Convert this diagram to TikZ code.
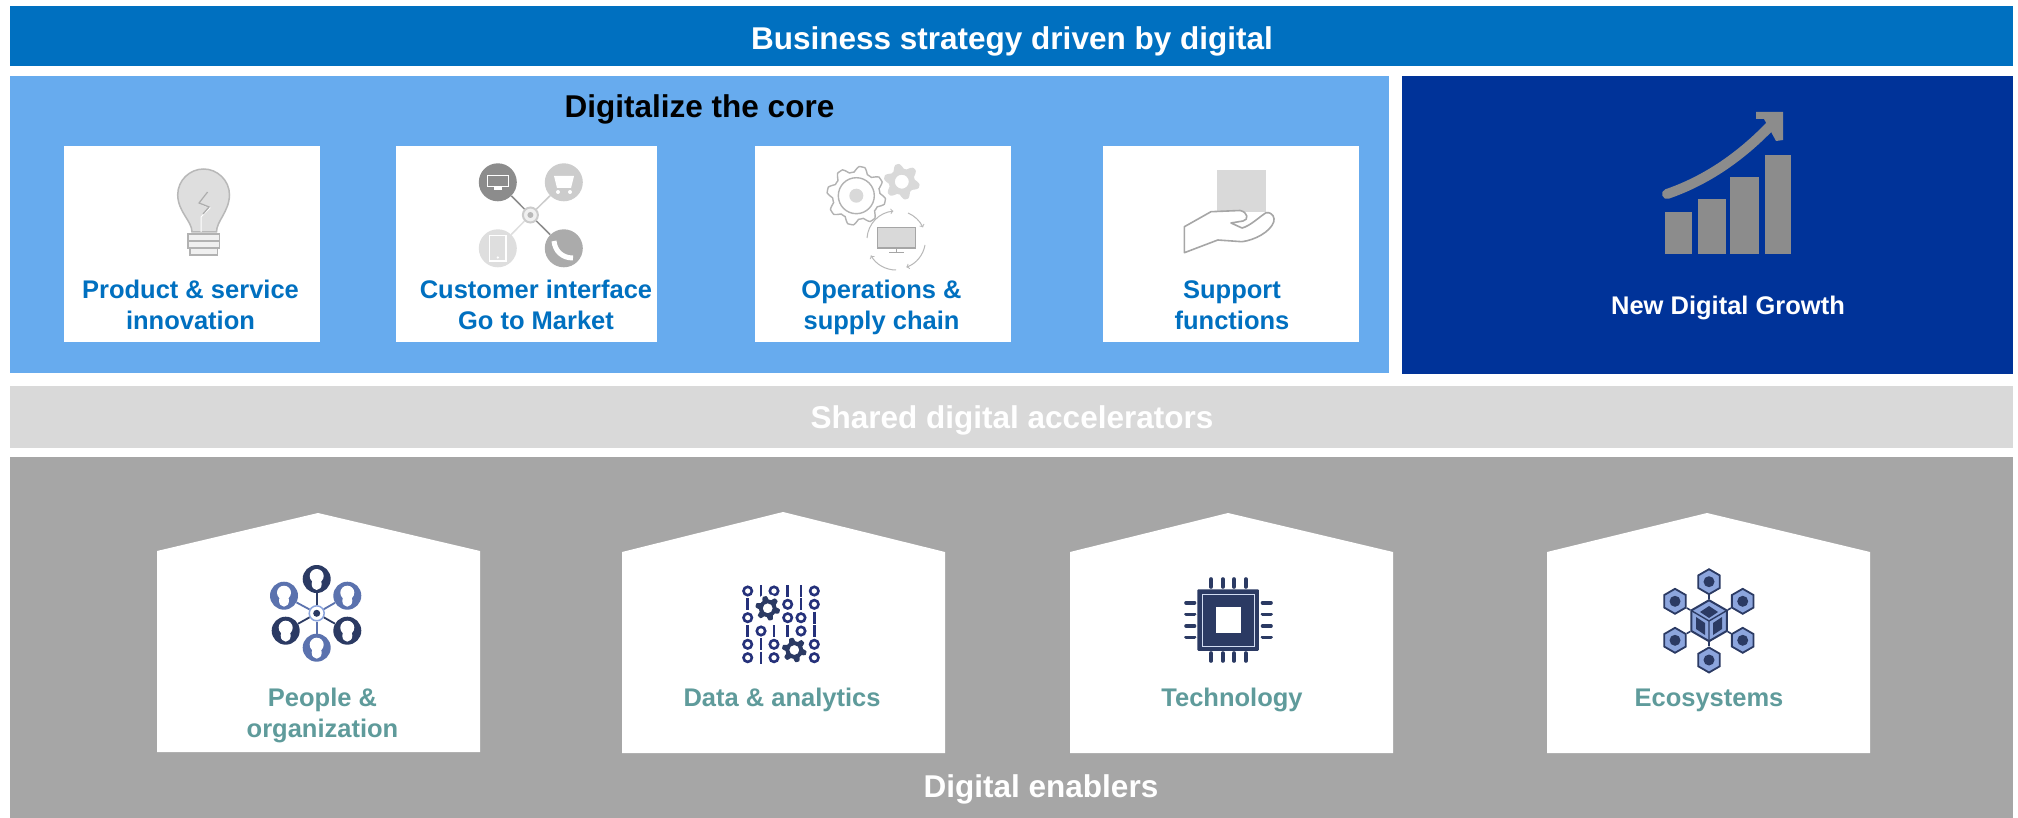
\documentclass[tikz,border=0pt]{standalone}
\usepackage{fontspec}
\setmainfont{Liberation Sans}
\usetikzlibrary{positioning}
\usetikzlibrary{shapes.geometric}
\definecolor{barblue}{HTML}{0070C0}
\definecolor{coreblue}{HTML}{67ABEE}
\definecolor{growthblue}{HTML}{003399}
\definecolor{sharedgray}{HTML}{D9D9D9}
\definecolor{enablergray}{HTML}{A6A6A6}
\definecolor{housetext}{HTML}{5F9B9B}
\definecolor{navyicon}{HTML}{2B3A63}
\definecolor{midicon}{HTML}{5B72AE}
\definecolor{paleicon}{HTML}{8CA5DD}
\definecolor{chartgray}{HTML}{8C8C8C}

\begin{document}
\begin{tikzpicture}[x=1pt, y=-1pt,
		panel/.style={anchor=north west, minimum width=#1, inner sep=0pt},
		card/.style={fill=white, minimum width=256pt, minimum height=196pt, inner sep=0pt},
		bigtext/.style={anchor=base, font=\fontsize{31.5}{37}\selectfont\bfseries},
		cardtext/.style={anchor=base, align=center, text=barblue, font=\fontsize{25.5}{30.5}\selectfont\bfseries},
		housetxt/.style={anchor=base, align=center, text=housetext, font=\fontsize{25.5}{30.5}\selectfont\bfseries},
		house/.style={fill=white},
		bulbline/.style={draw=black!28, fill=black!13, line width=1.5pt},
		gearline/.style={draw=black!30, line width=1.4pt},
		custdisc/.style={circle, minimum size=38pt, inner sep=0pt},
		persondark/.style={circle, fill=navyicon, minimum size=28pt, inner sep=0pt},
		personmid/.style={circle, fill=midicon, minimum size=28pt, inner sep=0pt},
		bit/.style={draw=navyicon!85!blue, line width=2.6pt},
		pin/.style={draw=navyicon, line width=3.6pt, line cap=round},
		hexsat/.style={regular polygon, regular polygon sides=6, shape border rotate=30, draw=navyicon, fill=paleicon, line width=1.8pt, minimum size=25pt, inner sep=0pt},
		hexhub/.style={regular polygon, regular polygon sides=6, shape border rotate=30, draw=navyicon, fill=paleicon, line width=2pt, minimum size=41pt, inner sep=0pt}
		]
		\useasboundingbox (0,0) rectangle (2018,818);
		
		% bands and panels
		\node[panel=2003pt, minimum height=60pt, fill=barblue] (strategy) at (10,6) {};
		\node[panel=1379pt, minimum height=297pt, fill=coreblue] (core) at (10,76) {};
		\node[panel=611pt, minimum height=298pt, fill=growthblue] (growth) at (1402,76) {};
		\node[panel=2003pt, minimum height=62pt, fill=sharedgray] (shared) at (10,386) {};
		\node[panel=2003pt, minimum height=361pt, fill=enablergray] (enablers) at (10,457) {};
		
		\node[bigtext, text=white] (strategytext) at (1012,50) {Business strategy driven by digital};
		\node[bigtext, text=black] (coretext) at (699.5,118) {Digitalize the core};
		\node[bigtext, text=white] (sharedtext) at (1012,428) {Shared digital accelerators};
		\node[bigtext, text=white] (enablerstext) at (1041,797) {Digital enablers};
		\node[cardtext, text=white] (growthtext) at (1728,315) {New Digital Growth};
		
		% cards of the core
		\node[card, anchor=north west] (cardprod) at (64,146) {};
		\node[card, minimum width=261pt, right=75.5pt of cardprod] (cardcust) {};
		\node[card, right=97pt of cardcust] (cardops) {};
		\node[card, right=92.5pt of cardops] (cardsup) {};
		
		\node[cardtext] (prodtext) at (190.5,329) {Product \& service\\innovation};
		\node[cardtext] (custtext) at (536,329) {Customer interface\\Go to Market};
		\node[cardtext] (opstext) at (881.5,329) {Operations \&\\supply chain};
		\node[cardtext] (suptext) at (1232,329) {Support\\functions};
		
		% bulb
		\draw[bulbline] (192,232) .. controls (192,221) and (178,212) .. (177.7,195) .. controls (177.7,180) and (190,169) .. (203.6,169) .. controls (217,169) and (229.5,180) .. (229.5,195) .. controls (229,212) and (216.5,221) .. (216.5,232) -- cycle;
		\draw[white, line width=1pt] (207.6,192) -- (199,203) -- (210,208) -- (201,217) -- (201,232);
		\draw[black!32, line width=1.3pt] (207.6,192) -- (199,203) -- (209,207) -- (203,214);
		\draw[draw=black!30, fill=black!6, line width=1.3pt] (188,234) rectangle (219.5,241);
		\draw[draw=black!30, fill=black!6, line width=1.3pt] (188,241) rectangle (219.5,248);
		\draw[draw=black!30, fill=black!6, line width=1.3pt] (190,248) rectangle (217.5,255);
		
		% customer interface
		\node[custdisc, fill=black!45] (custscreen) at (497.8,182.3) {};
		\node[custdisc, fill=black!20] (custcart) at (563.8,182.3) {};
		\node[custdisc, fill=black!13] (custmobile) at (497.8,248.3) {};
		\node[custdisc, fill=black!33] (custcall) at (563.8,248.3) {};
		\node[circle, draw=black!20, fill=black!6, line width=2pt, minimum size=15pt, inner sep=0pt] (custhub) at (530.4,215) {};
		\draw[black!45, line width=1.5pt] (custscreen) -- (custhub);
		\draw[black!20, line width=1.5pt] (custcart) -- (custhub);
		\draw[black!13, line width=1.5pt] (custmobile) -- (custhub);
		\draw[black!45, line width=1.5pt] (custcall) -- (custhub);
		\fill[black!28] (530.4,215) circle (3);
		\draw[white, line width=1.5pt] (487.5,175.5) rectangle (508.5,186.5);
		\fill[white] (494,187) rectangle (502,190.5);
		\fill[white] (554,176) -- (574,176) -- (571,188) -- (557,188) -- cycle;
		\fill[white] (558,192) circle (2) (570,192) circle (2);
		\draw[white, line width=1.5pt] (489.5,235.5) rectangle (506,261);
		\fill[white] (497.8,257.5) circle (1.3);
		\draw[white, line width=5pt] (554,241) .. controls (555,251) and (562,258) .. (573,258);
		
		% operations
		\draw[gearline, fill=white, shift={(856.3,195.7)}] plot[domain=0:360, samples=193] (\x:{26.5+max(min(4*sin(8*\x),2.8),-2.8)}) -- cycle;
		\draw[gearline] (856.3,195.7) circle (18);
		\fill[black!15] (856.3,195.7) circle (7);
		\fill[even odd rule, black!15, shift={(901.8,181.7)}] plot[domain=0:360, samples=145] (\x:{15.5+max(min(3*sin(6*\x),2.5),-2.5)}) -- cycle (0,0) circle (7);
		\draw[black!28, line width=1pt, ->] (908,213) arc[start angle=-67, end angle=-25, radius=29];
		\draw[black!28, line width=1pt, ->] (925,245) arc[start angle=10, end angle=70, radius=29];
		\draw[black!28, line width=1pt, ->] (896,270) arc[start angle=90, end angle=150, radius=29];
		\draw[black!28, line width=1pt, ->] (867,238) arc[start angle=184, end angle=265, radius=29];
		\draw[draw=black!35, fill=black!15, line width=1.5pt] (877.5,227.5) rectangle (915.5,248);
		\draw[black!35, line width=1.5pt] (896.5,248) -- (896.5,252.5) (889,252.5) -- (904,252.5);
		
		% support
		\fill[black!15] (1216.5,170) rectangle (1266,212);
		\draw[draw=black!35, fill=white, line width=1.6pt, line join=round] (1184.4,252.7) -- (1184.4,226.7) -- (1211,211.7) -- (1240,210.5) .. controls (1248,212) and (1249,220) .. (1243,221) -- (1231,223) -- (1242,228) .. controls (1250,226) and (1258,218) .. (1266,212.7) .. controls (1273,212) and (1275,218) .. (1273.7,222) .. controls (1270,232) and (1255,240) .. (1242,241.7) -- (1217.8,240) -- cycle;
		
		% growth chart
		\fill[chartgray] (1665,212) rectangle (1692,254);
		\fill[chartgray] (1698,199) rectangle (1726,254);
		\fill[chartgray] (1730,177) rectangle (1759,254);
		\fill[chartgray] (1765,155) rectangle (1791,254);
		\draw[chartgray, line width=10pt, line cap=round] (1667,194) .. controls (1702,182) and (1738,160) .. (1772,124);
		\fill[chartgray] (1756,112) -- (1783,112) -- (1783,140) -- (1776,141) -- (1764,119) -- (1756,119) -- cycle;
		
		% houses of the enablers
		\fill[house] (157,551) -- (318,513) -- (480,551) -- (480,752) -- (157,752) -- cycle;
		\fill[house] (622,552) -- (783,512) -- (945,552) -- (945,753) -- (622,753) -- cycle;
		\fill[house] (1070,552) -- (1228,513) -- (1393,552) -- (1393,753) -- (1070,753) -- cycle;
		\fill[house] (1547,552) -- (1707,513) -- (1870,552) -- (1870,753) -- (1547,753) -- cycle;
		
		\node[housetxt] (peopletext) at (322.5,737) {People \&\\organization};
		\node[housetxt] (datatext) at (782,706) {Data \& analytics};
		\node[housetxt] (techtext) at (1232,706) {Technology};
		\node[housetxt] (ecotext) at (1709,706) {Ecosystems};
		
		% people
		\node[circle, draw=paleicon, fill=white, line width=1.5pt, minimum size=15pt, inner sep=0pt] (peoplehub) at (316.7,613.3) {};
		\node[persondark] (ptop) at (316.7,579) {};
		\node[personmid] (pupleft) at (284,595.7) {};
		\node[personmid] (pupright) at (347.3,595.7) {};
		\node[persondark] (plowleft) at (285.7,630.7) {};
		\node[persondark] (plowright) at (347.3,630.7) {};
		\node[personmid] (pbottom) at (316.7,647.7) {};
		\draw[navyicon, line width=1.8pt] (peoplehub) -- (ptop);
		\draw[midicon, line width=1.8pt] (peoplehub) -- (pupleft);
		\draw[midicon, line width=1.8pt] (peoplehub) -- (pupright);
		\draw[navyicon, line width=1.8pt] (peoplehub) -- (plowleft);
		\draw[navyicon, line width=1.8pt] (peoplehub) -- (plowright);
		\draw[midicon, line width=1.8pt] (peoplehub) -- (pbottom);
		\fill[navyicon] (peoplehub.center) circle (3.5);
		\fill[white] ([yshift=3pt]ptop.center) circle (7) ([yshift=-5pt]ptop.center) ellipse [x radius=5, y radius=6];
		\fill[white] ([yshift=3pt]pupleft.center) circle (7) ([yshift=-5pt]pupleft.center) ellipse [x radius=5, y radius=6];
		\fill[white] ([yshift=3pt]pupright.center) circle (7) ([yshift=-5pt]pupright.center) ellipse [x radius=5, y radius=6];
		\fill[white] ([yshift=3pt]plowleft.center) circle (7) ([yshift=-5pt]plowleft.center) ellipse [x radius=5, y radius=6];
		\fill[white] ([yshift=3pt]plowright.center) circle (7) ([yshift=-5pt]plowright.center) ellipse [x radius=5, y radius=6];
		\fill[white] ([yshift=3pt]pbottom.center) circle (7) ([yshift=-5pt]pbottom.center) ellipse [x radius=5, y radius=6];
		
		% data
		\draw[bit] (747.7,591) circle (4.2) (774,591) circle (4.2) (814.3,591) circle (4.2);
		\draw[bit] (761,585) -- (761,597) (787.7,585) -- (787.7,597) (801,585) -- (801,597);
		\draw[bit] (787.7,604.3) circle (4.2) (814.3,604.3) circle (4.2);
		\draw[bit] (747.7,598.3) -- (747.7,610.3) (801,598.3) -- (801,610.3);
		\draw[bit] (747.7,617.7) circle (4.2) (787.7,617.7) circle (4.2) (801,617.7) circle (4.2);
		\draw[bit] (814.3,611.7) -- (814.3,623.7);
		\draw[bit] (761,631) circle (4.2) (801,631) circle (4.2);
		\draw[bit] (747.7,625) -- (747.7,637) (774,625) -- (774,637) (787.7,625) -- (787.7,637) (814.3,625) -- (814.3,637);
		\draw[bit] (747.7,644.3) circle (4.2) (774,644.3) circle (4.2) (814.3,644.3) circle (4.2);
		\draw[bit] (761,638.3) -- (761,650.3);
		\draw[bit] (747.7,657.7) circle (4.2) (774,657.7) circle (4.2) (814.3,657.7) circle (4.2);
		\draw[bit] (761,651.7) -- (761,663.7);
		\fill[white] (767.7,608.3) circle (14) (794.3,650) circle (14);
		\fill[even odd rule, navyicon, shift={(767.7,608.3)}] plot[domain=0:360, samples=145] (\x:{10.5+max(min(3*sin(6*\x),1.8),-1.8)}) -- cycle (0,0) circle (5);
		\fill[even odd rule, navyicon, shift={(794.3,650)}] plot[domain=0:360, samples=145] (\x:{10.5+max(min(3*sin(6*\x),1.8),-1.8)}) -- cycle (0,0) circle (5);
		
		% technology
		\draw[pin] (1211,579) -- (1211,587) (1222.7,579) -- (1222.7,587) (1234,579) -- (1234,587) (1245.7,579) -- (1245.7,587);
		\draw[pin] (1211,653) -- (1211,661) (1222.7,653) -- (1222.7,661) (1234,653) -- (1234,661) (1245.7,653) -- (1245.7,661);
		\draw[pin] (1186,602.7) -- (1194.5,602.7) (1186,614.3) -- (1194.5,614.3) (1186,626) -- (1194.5,626) (1186,637.3) -- (1194.5,637.3);
		\draw[pin] (1262.5,602.7) -- (1271,602.7) (1262.5,614.3) -- (1271,614.3) (1262.5,626) -- (1271,626) (1262.5,637.3) -- (1271,637.3);
		\node[rectangle, fill=navyicon, rounded corners=1pt, minimum size=61.5pt, inner sep=0pt] (chip) at (1228.2,620) {};
		\draw[paleicon!40!white, line width=1pt] (1202,594) rectangle (1254.7,646);
		\node[rectangle, fill=white, minimum size=25.4pt, inner sep=0pt] (chipcore) at (chip.center) {};
		
		% ecosystems
		\node[hexhub] (ecohub) at (1709,620.7) {};
		\node[hexsat] (ecotop) at (1709,581.7) {};
		\node[hexsat] (ecoupleft) at (1675,601.3) {};
		\node[hexsat] (ecoupright) at (1742.7,601.3) {};
		\node[hexsat] (ecolowleft) at (1675,640.3) {};
		\node[hexsat] (ecolowright) at (1742.7,640.3) {};
		\node[hexsat] (ecobottom) at (1709,660) {};
		\draw[navyicon, line width=1.6pt] (ecohub) -- (ecotop);
		\draw[navyicon, line width=1.6pt] (ecohub) -- (ecoupleft);
		\draw[navyicon, line width=1.6pt] (ecohub) -- (ecoupright);
		\draw[navyicon, line width=1.6pt] (ecohub) -- (ecolowleft);
		\draw[navyicon, line width=1.6pt] (ecohub) -- (ecolowright);
		\draw[navyicon, line width=1.6pt] (ecohub) -- (ecobottom);
		\fill[navyicon] (ecotop.center) circle (5.5) (ecoupleft.center) circle (5.5) (ecoupright.center) circle (5.5) (ecolowleft.center) circle (5.5) (ecolowright.center) circle (5.5) (ecobottom.center) circle (5.5);
		\fill[navyicon] (1709,606) -- (1718,612) -- (1709,618) -- (1700,612) -- cycle;
		\fill[navyicon] (1696,617) -- (1705,623) -- (1705,635) -- (1696,629) -- cycle;
		\fill[navyicon] (1722,617) -- (1713,623) -- (1713,635) -- (1722,629) -- cycle;
		\draw[navyicon, line width=1.4pt] (1692,611) -- (1709,621) -- (1726,611) (1709,621) -- (1709,640);
		
	\end{tikzpicture}
\end{document}
